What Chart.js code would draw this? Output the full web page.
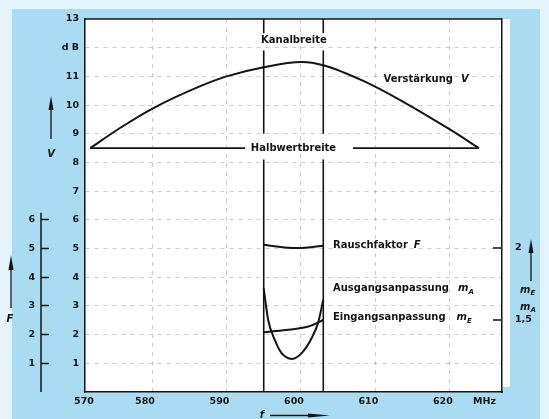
<!DOCTYPE html>
<html>
<head>
<meta charset="utf-8">
<script src="https://cdn.jsdelivr.net/npm/chart.js@4"></script>
<style>
  html, body { margin: 0; padding: 0; background: #a9dbf3; }
  #wrap { width: 549px; height: 419px; }
</style>
</head>
<body>
<div id="wrap"><canvas id="chart" width="549" height="419"></canvas></div>
<script>
// Verstärkung V (dB) über Frequenz (MHz)
const gainFreq = [571.7, 575.7, 580, 586.4, 590, 595, 600.1, 603.1, 608.3, 613.5, 620, 623.9];
const gainDb   = [8.5, 9.2, 9.87, 10.65, 11.0, 11.32, 11.5, 11.38, 10.85, 10.15, 9.15, 8.5];

// Halbwertbreite (Linie bei 8,5 dB, Lücke für die Beschriftung)
const halfFreq = [571.7, 592.5, 599, 607, 623.9];
const halfDb   = [8.5, 8.5, null, 8.5, 8.5];

// Kanalbreite: senkrechte Linien mit Lücken für die Beschriftungen
const channelEdges = [595, 603];
const channelDb    = [13, 12.5, null, 11.9, 9.0, null, 8.1, 0];

// Rauschfaktor F (linke Skala)
const noiseFreq = [595, 597, 599, 601, 603];
const noiseF    = [5.13, 5.06, 5.02, 5.04, 5.1];

// Ausgangsanpassung m_A (rechte Skala)
const outFreq = [595, 595.6, 596.5, 597.4, 598.8, 600.1, 601.5, 602.3, 603];
const outM    = [1.72, 1.50, 1.36, 1.27, 1.23, 1.27, 1.38, 1.48, 1.64];

// Eingangsanpassung m_E (rechte Skala)
const inFreq = [595, 598, 601, 603];
const inM    = [1.415, 1.43, 1.455, 1.50];

// Achsen
const xTicks      = [571.8, 580, 590, 600, 610, 620, 625.6];
const xTickLabels = ['570', '580', '590', '600', '610', '620', 'MHz'];
const xGridAt     = [580, 590, 600, 610, 620];
const dbTicks     = [1, 2, 3, 4, 5, 6, 7, 8, 9, 10, 11, 12, 13];
const fTicks      = [1, 2, 3, 4, 5, 6];
const mTicks      = [1.5, 2];
const mTickLabels = ['1,5', '2'];

const INK = '#141414';
const GRID = 'rgba(0,0,0,0.2)';
const tickFont = { family: 'DejaVu Sans', size: 9.5, weight: 'bold' };
const F_TXT = 'bold 10px "DejaVu Sans"';
const F_IT  = 'italic bold 10px "DejaVu Sans"';
const F_SUB = 'italic bold 7px "DejaVu Sans"';

const pts = (xs, ys) => xs.map((x, i) => ({ x, y: ys[i] }));
const line = (data, axis, extra) => Object.assign({
  data, yAxisID: axis, borderColor: INK, borderWidth: 2, pointRadius: 0,
  fill: false, spanGaps: false, tension: 0
}, extra || {});

function upArrow(ctx, x, tip, headEnd, bottom, hw) {
  ctx.beginPath(); ctx.moveTo(x, headEnd); ctx.lineTo(x, bottom); ctx.stroke();
  ctx.beginPath(); ctx.moveTo(x, tip); ctx.lineTo(x - hw, headEnd); ctx.lineTo(x + hw, headEnd);
  ctx.closePath(); ctx.fill();
}

function rich(ctx, x, y, parts) {
  let cx = x;
  for (const p of parts) {
    ctx.font = p.font;
    ctx.fillText(p.t, cx, y + (p.dy || 0));
    cx += ctx.measureText(p.t).width + (p.gap || 0);
  }
}

const decor = {
  id: 'decor',
  beforeDraw(chart) {
    const { ctx, chartArea: a } = chart;
    ctx.save();
    ctx.fillStyle = '#e3f3fb';
    ctx.fillRect(0, 0, 549, 419);
    ctx.fillStyle = '#a9dbf3';
    ctx.fillRect(12, 9, 528, 410);
    ctx.fillStyle = '#ffffff';
    ctx.fillRect(a.left, a.top, a.right - a.left + 8, a.bottom - a.top - 5);
    ctx.fillRect(a.left, a.top, a.right - a.left, a.bottom - a.top);
    ctx.restore();
  },
  afterDraw(chart) {
    const { ctx, chartArea: a, scales } = chart;
    const X = v => scales.x.getPixelForValue(v);
    const Y = v => scales.y.getPixelForValue(v);
    const M = v => scales.y2.getPixelForValue(v);
    ctx.save();
    ctx.strokeStyle = INK; ctx.fillStyle = INK; ctx.lineWidth = 1.5;

    // oberer Rahmen
    ctx.beginPath(); ctx.moveTo(a.left, a.top); ctx.lineTo(a.right, a.top); ctx.stroke();

    // äußere F-Achse
    ctx.beginPath(); ctx.moveTo(41, Y(6.25)); ctx.lineTo(41, Y(0)); ctx.stroke();

    // Striche der rechten Skala (nach innen)
    mTicks.forEach(v => {
      ctx.beginPath(); ctx.moveTo(a.right - 9, M(v)); ctx.lineTo(a.right, M(v)); ctx.stroke();
    });

    // Pfeile
    ctx.lineWidth = 1.3;
    upArrow(ctx, 51, 96, 110, 139, 2.5);
    upArrow(ctx, 11, 255, 270, 308, 2.5);
    upArrow(ctx, 531, 239, 253, 281, 2.5);
    // f-Pfeil
    ctx.beginPath(); ctx.moveTo(270, 415.5); ctx.lineTo(312, 415.5); ctx.stroke();
    ctx.beginPath(); ctx.moveTo(330, 415.5); ctx.lineTo(308, 413.5); ctx.lineTo(308, 417.5);
    ctx.closePath(); ctx.fill();

    // Achsenbezeichnungen
    ctx.textBaseline = 'middle'; ctx.textAlign = 'center';
    ctx.font = F_IT;
    ctx.fillText('V', 51, 154);
    ctx.fillText('F', 10, 319);
    ctx.fillText('f', 262, 415);
    ctx.textAlign = 'left';
    rich(ctx, 520, 290, [{ t: 'm', font: F_IT }, { t: 'E', font: F_SUB, dy: 3 }]);
    rich(ctx, 520, 307, [{ t: 'm', font: F_IT }, { t: 'A', font: F_SUB, dy: 3 }]);

    // Beschriftungen im Diagramm
    ctx.textAlign = 'center';
    ctx.font = F_TXT;
    ctx.fillText('Kanalbreite', X(599.05), Y(12.27));
    ctx.fillText('Halbwertbreite', X(599), Y(8.5));
    ctx.textAlign = 'left';
    rich(ctx, X(611.1), Y(10.9), [{ t: 'Verstärkung', font: F_TXT, gap: 8 }, { t: 'V', font: F_IT }]);
    rich(ctx, X(604.3), Y(5.12), [{ t: 'Rauschfaktor', font: F_TXT, gap: 6 }, { t: 'F', font: F_IT }]);
    rich(ctx, X(604.3), Y(3.62), [{ t: 'Ausgangsanpassung', font: F_TXT, gap: 9 }, { t: 'm', font: F_IT }, { t: 'A', font: F_SUB, dy: 4 }]);
    rich(ctx, X(604.3), Y(2.61), [{ t: 'Eingangsanpassung', font: F_TXT, gap: 11 }, { t: 'm', font: F_IT }, { t: 'E', font: F_SUB, dy: 4 }]);
    ctx.restore();
  }
};

const datasets = [
  line(pts(gainFreq, gainDb), 'y', { cubicInterpolationMode: 'monotone' }),
  line(pts(halfFreq, halfDb), 'y', { borderWidth: 1.6 }),
  ...channelEdges.map(e => line(pts(channelDb.map(() => e), channelDb), 'y', { borderWidth: 1.6 })),
  line(pts(noiseFreq, noiseF), 'y', { cubicInterpolationMode: 'monotone' }),
  line(pts(outFreq, outM), 'y2', { cubicInterpolationMode: 'monotone' }),
  line(pts(inFreq, inM), 'y2', { cubicInterpolationMode: 'monotone' })
];

new Chart(document.getElementById('chart'), {
  type: 'line',
  data: { datasets },
  plugins: [decor],
  options: {
    responsive: false,
    animation: false,
    devicePixelRatio: 1,
    layout: { padding: { top: 19, left: 0, right: 0, bottom: 0 } },
    plugins: { legend: { display: false }, tooltip: { enabled: false } },
    scales: {
      x: {
        type: 'linear', min: 571, max: 627,
        afterBuildTicks: s => { s.ticks = xTicks.map(v => ({ value: v })); },
        afterFit: s => { s.height = 27; },
        ticks: {
          callback: (v, i) => xTickLabels[i], labelOffset: -7, padding: 4,
          font: tickFont, color: INK, maxRotation: 0, autoSkip: false
        },
        grid: {
          drawTicks: false, lineWidth: 1,
          color: c => (c.tick && xGridAt.includes(c.tick.value)) ? GRID : 'rgba(0,0,0,0)'
        },
        border: { color: INK, width: 1.5, dash: [4, 5] }
      },
      y: {
        position: 'left', weight: 0, min: 0, max: 13,
        afterBuildTicks: s => { s.ticks = dbTicks.map(v => ({ value: v })); },
        afterFit: s => { s.width = 36; },
        ticks: {
          callback: v => v === 12 ? 'd B' : String(v), padding: 6,
          font: tickFont, color: INK, autoSkip: false
        },
        grid: {
          drawTicks: false, lineWidth: 1,
          color: c => (c.tick && c.tick.value < 13) ? GRID : 'rgba(0,0,0,0)'
        },
        border: { color: INK, width: 1.5, dash: [4, 5] }
      },
      yF: {
        position: 'left', weight: 1, min: 0, max: 13,
        afterBuildTicks: s => { s.ticks = fTicks.map(v => ({ value: v })); },
        afterFit: s => { s.width = 49; },
        ticks: { padding: 6, font: tickFont, color: INK, autoSkip: false },
        grid: { drawOnChartArea: false, drawTicks: true, tickLength: 8, tickWidth: 1.5, tickColor: INK, color: INK },
        border: { display: false }
      },
      y2: {
        position: 'right', min: 1, max: 3.59,
        afterBuildTicks: s => { s.ticks = mTicks.map(v => ({ value: v })); },
        afterFit: s => { s.width = 47; },
        ticks: {
          callback: (v, i) => mTickLabels[i], padding: 5,
          font: tickFont, color: INK, autoSkip: false
        },
        grid: { display: false },
        border: { color: INK, width: 1.5 }
      }
    }
  }
});
</script>
</body>
</html>
